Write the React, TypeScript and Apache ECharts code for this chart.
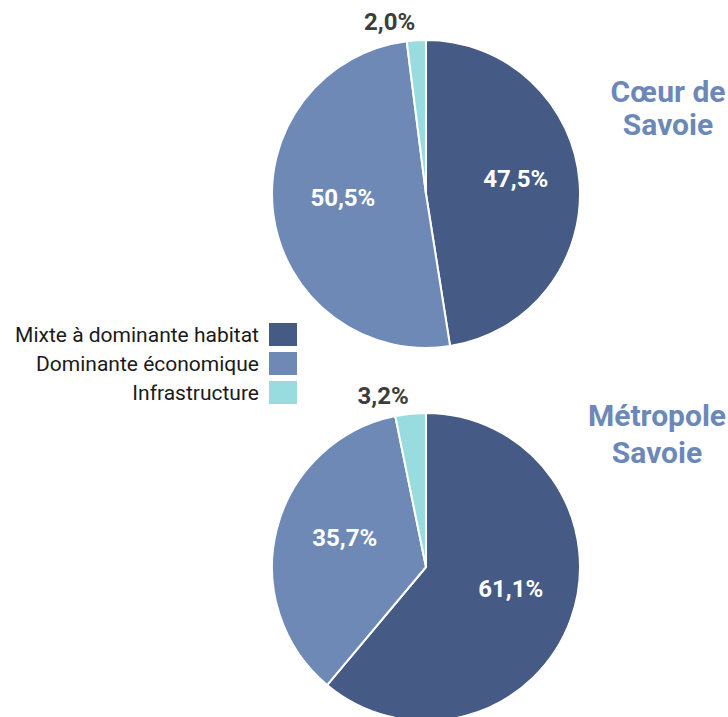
import React, { useEffect, useRef } from "react";
import * as echarts from "echarts";

const categories = ["Mixte à dominante habitat", "Dominante économique", "Infrastructure"];
const coeurValues = [47.5, 50.5, 2.0];
const metropoleValues = [61.1, 35.7, 3.2];
const pieTitles = ["Cœur de\nSavoie", "Métropole\nSavoie"];
const colors = ["#455a84", "#6e89b6", "#98dce0"];

const fmt = (v: number) => v.toFixed(1).replace(".", ",") + "%";

function mainSeries(values: number[], center: [number, number]) {
  return {
    type: "pie",
    center,
    radius: [0, 154],
    startAngle: 90,
    clockwise: true,
    silent: true,
    avoidLabelOverlap: false,
    itemStyle: { borderColor: "#ffffff", borderWidth: 2 },
    labelLine: { show: false, length: 18, length2: 0 },
    data: values.map((v, i) => ({
      name: categories[i],
      value: v,
      itemStyle: { color: colors[i] },
      label:
        v < 10
          ? {
              show: true,
              position: "outside",
              distanceToLabelLine: 0,
              formatter: () => fmt(v),
              color: "#3d3d3d",
              fontSize: 24,
              fontWeight: "bold",
              fontFamily: "Roboto",
            }
          : { show: false },
    })),
  };
}

function labelSeries(values: number[], center: [number, number]) {
  return {
    type: "pie",
    center,
    radius: [0, 168],
    startAngle: 90,
    clockwise: true,
    silent: true,
    z: 5,
    labelLine: { show: false },
    itemStyle: { color: "rgba(0,0,0,0)", borderWidth: 0 },
    data: values.map((v, i) => ({
      name: categories[i],
      value: v,
      itemStyle: { color: "rgba(0,0,0,0)" },
      label:
        v >= 10
          ? {
              show: true,
              position: "inside",
              offset: [3, -8],
              formatter: () => fmt(v),
              color: "#ffffff",
              fontSize: 24,
              fontWeight: "bold",
              fontFamily: "Roboto",
            }
          : { show: false },
    })),
  };
}

export default function App() {
  const ref = useRef<HTMLDivElement>(null);
  useEffect(() => {
    if (!ref.current) return;
    const chart = echarts.init(ref.current, undefined, { renderer: "svg" });
    chart.setOption({
      animation: false,
      backgroundColor: "#ffffff",
      color: colors,
      legend: {
        data: categories,
        orient: "vertical",
        right: 424,
        top: 316,
        align: "right",
        icon: "rect",
        itemWidth: 30,
        itemHeight: 25,
        itemGap: 2,
        selectedMode: false,
        textStyle: {
          fontFamily: "Roboto",
          fontSize: 21,
          color: "#1a1a1a",
          padding: [0, 4, 0, 0],
        },
      },
      graphic: [
        {
          type: "text",
          x: 668,
          y: 108,
          style: {
            text: pieTitles[0],
            fill: "#6c88b9",
            font: "bold 30px Roboto",
            textAlign: "center",
            textVerticalAlign: "middle",
            lineHeight: 33,
          },
        },
        {
          type: "text",
          x: 657,
          y: 434,
          style: {
            text: pieTitles[1],
            fill: "#6c88b9",
            font: "bold 30px Roboto",
            textAlign: "center",
            textVerticalAlign: "middle",
            lineHeight: 37,
          },
        },
      ],
      series: [
        mainSeries(coeurValues, [426, 194]),
        mainSeries(metropoleValues, [426, 567]),
        labelSeries(coeurValues, [426, 194]),
        labelSeries(metropoleValues, [426, 567]),
      ],
    });
    return () => chart.dispose();
  }, []);
  return (
    <div
      ref={ref}
      style={{ position: "fixed", left: 0, top: 0, width: 728, height: 717 }}
    />
  );
}
